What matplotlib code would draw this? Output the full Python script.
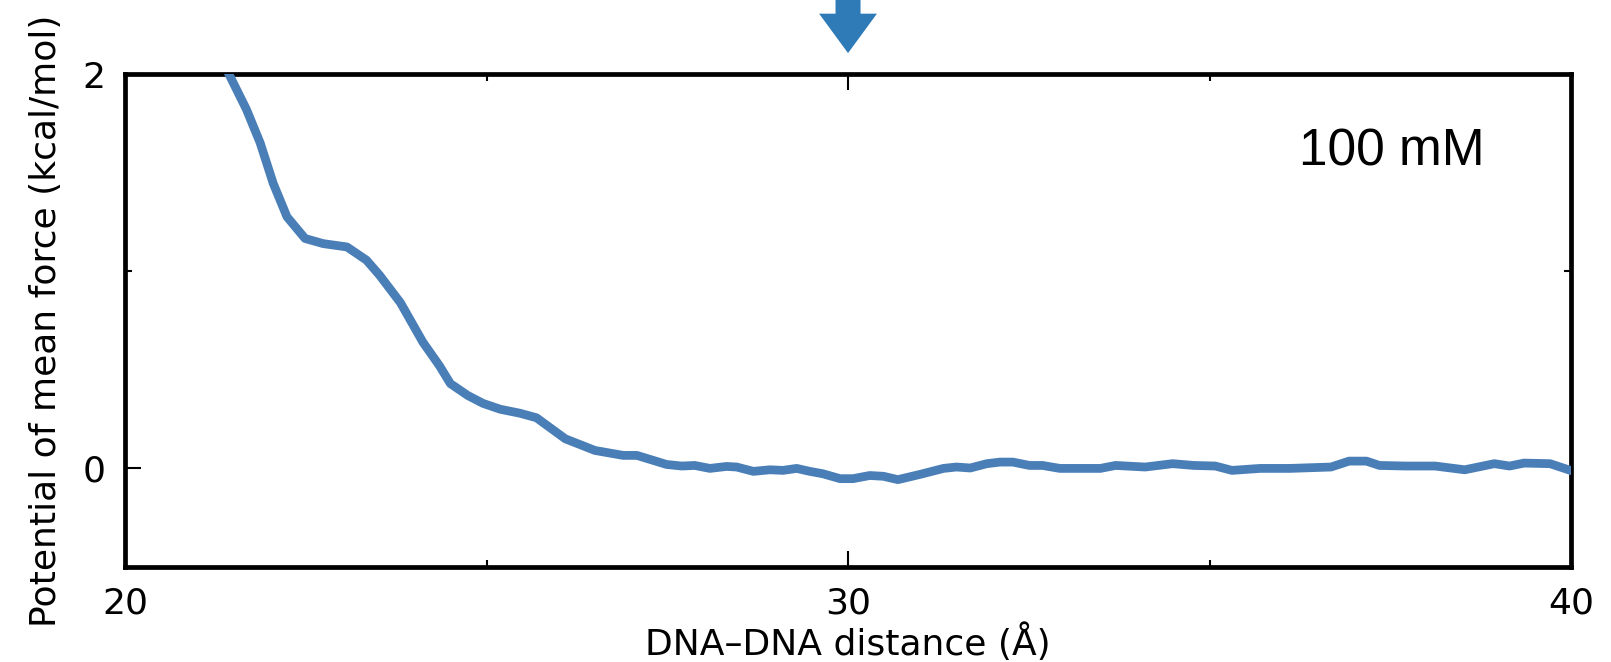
import matplotlib.pyplot as plt
from matplotlib.ticker import MultipleLocator

# distance (Å) vs PMF (kcal/mol)
dist = [21.45, 21.68, 21.87, 22.05, 22.24, 22.49, 22.74, 23.07, 23.34, 23.52,
        23.81, 24.12, 24.35, 24.50, 24.74, 24.95, 25.19, 25.46, 25.69, 26.09,
        26.50, 26.89, 27.08, 27.49, 27.70, 27.88, 28.09, 28.32, 28.46, 28.69,
        28.92, 29.10, 29.29, 29.47, 29.65, 29.89, 30.07, 30.30, 30.49, 30.69,
        31.00, 31.32, 31.50, 31.69, 31.92, 32.10, 32.28, 32.51, 32.69, 32.93,
        33.49, 33.70, 34.11, 34.49, 34.78, 35.08, 35.31, 35.70, 36.11, 36.68,
        36.93, 37.17, 37.35, 37.71, 38.12, 38.53, 38.94, 39.15, 39.35, 39.71,
        39.99]
pmf = [1.99, 1.82, 1.65, 1.445, 1.276, 1.166, 1.14, 1.123, 1.056, 0.98,
       0.84, 0.64, 0.52, 0.43, 0.37, 0.33, 0.30, 0.28, 0.257, 0.15,
       0.091, 0.066, 0.066, 0.02, 0.012, 0.015, 0.0, 0.01, 0.007, -0.015,
       -0.007, -0.01, 0.0, -0.015, -0.027, -0.052, -0.052, -0.036, -0.04, -0.057,
       -0.03, 0.0, 0.007, 0.002, 0.024, 0.032, 0.032, 0.015, 0.015, 0.0,
       0.0, 0.015, 0.007, 0.024, 0.015, 0.012, -0.01, 0.0, 0.0, 0.007,
       0.037, 0.037, 0.015, 0.012, 0.012, -0.007, 0.024, 0.012, 0.027, 0.024,
       -0.01]

fig = plt.figure(figsize=(16.11, 6.62), dpi=100)
ax = fig.add_axes([0.0776, 0.1435, 0.8976, 0.7447])

ax.plot(dist, pmf, color='#4a7eb7', lw=6.3, solid_joinstyle='round', zorder=3)

ax.set_xlim(20, 40)
ax.set_ylim(-0.5, 2)
ax.xaxis.set_major_locator(MultipleLocator(10))
ax.xaxis.set_minor_locator(MultipleLocator(5))
ax.yaxis.set_major_locator(MultipleLocator(2))
ax.yaxis.set_minor_locator(MultipleLocator(1))
ax.tick_params(which='both', direction='in', top=True, right=True, width=1.5)
ax.tick_params(which='major', length=11.5, labelsize=26, pad=14)
ax.tick_params(which='minor', length=5)
for s in ax.spines.values():
    s.set_linewidth(3.4)

ax.set_xlabel('DNA–DNA distance (Å)', fontsize=26, labelpad=2)
ax.set_ylabel('Potential of mean force (kcal/mol)', fontsize=26, labelpad=14)

ax.text(0.876, 0.842, '100 mM', transform=ax.transAxes, fontsize=37,
        family='Liberation Sans', ha='center', va='center')

# arrow above the axes pointing at 30 Å
ax.arrow(30, 2.376, 0, -0.27, width=0.346, head_width=0.8, head_length=0.2,
         length_includes_head=True, clip_on=False, color='#2e7bb8', lw=0)

fig.savefig('out.png', dpi=100)
